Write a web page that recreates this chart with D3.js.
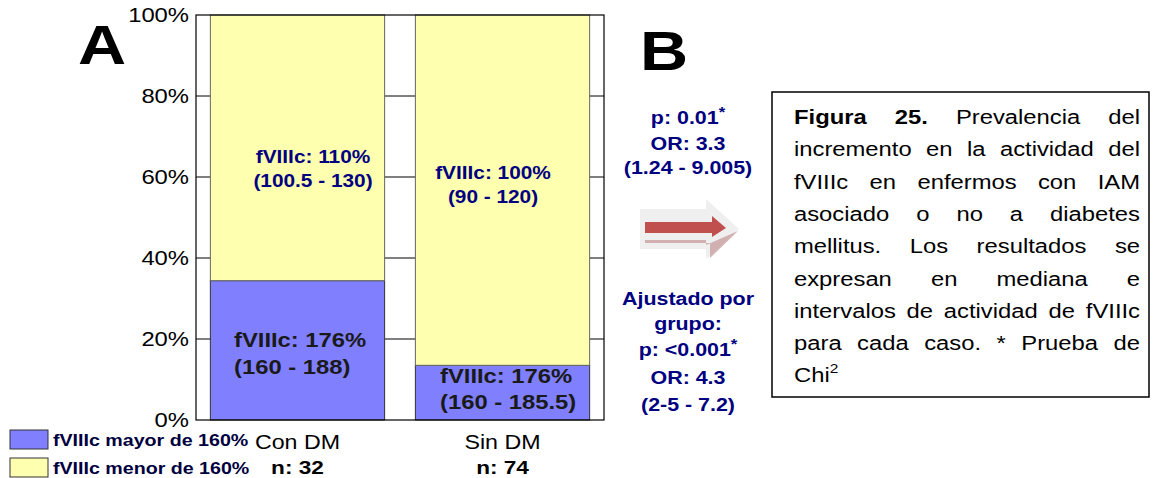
<!DOCTYPE html>
<html>
<head>
<meta charset="utf-8">
<script src="https://d3js.org/d3.v7.min.js"></script>
<style>
  body { margin: 0; background: #fff; }
  text { font-family: Arial, "Liberation Sans", sans-serif; }
</style>
</head>
<body>
<svg id="chart" width="1153" height="478"></svg>
<script>
// data
const groups = ["Con DM", "Sin DM"];
const nLabels = ["n: 32", "n: 74"];
const mayorPct = [34.4, 13.5];   // fVIIIc mayor de 160%
const menorPct = [65.6, 86.5];   // fVIIIc menor de 160%
const yTicks = [0, 20, 40, 60, 80, 100];
const legendLabels = ["fVIIIc mayor de 160%", "fVIIIc menor de 160%"];
const topLabels = [["fVIIIc: 110%", "(100.5 - 130)"], ["fVIIIc: 100%", "(90 - 120)"]];
const bottomLabels = [["fVIIIc: 176%", "(160 - 188)"], ["fVIIIc: 176%", "(160 - 185.5)"]];
const statsTop = ["p: 0.01*", "OR: 3.3", "(1.24 - 9.005)"];
const statsBottom = ["Ajustado por", "grupo:", "p: <0.001*", "OR: 4.3", "(2-5 - 7.2)"];
const caption = [
  ["Figura", "25.", "Prevalencia", "del"],
  ["incremento", "en", "la", "actividad", "del"],
  ["fVIIIc", "en", "enfermos", "con", "IAM"],
  ["asociado", "o", "no", "a", "diabetes"],
  ["mellitus.", "Los", "resultados", "se"],
  ["expresan", "en", "mediana", "e"],
  ["intervalos", "de", "actividad", "de", "fVIIIc"],
  ["para", "cada", "caso.", "*", "Prueba", "de"]
];

const colors = { mayor: "#8080ff", menor: "#ffffb0" };
const SX = 1.19; // the original picture is stretched horizontally

const svg = d3.select("#chart");
const plot = { left: 196, right: 604, top: 15, bottom: 420 };

// stretched text helper
function stext(x, y, str, size, anchor, weight, fill) {
  return svg.append("text")
    .attr("transform", "translate(" + x + "," + y + ") scale(" + SX + ",1)")
    .attr("text-anchor", anchor || "start")
    .attr("font-size", size)
    .attr("font-weight", weight || "normal")
    .attr("fill", fill || "#000")
    .text(str);
}

// text with a raised asterisk at the end
function starText(x, y, str, size, fill) {
  const base = str.replace("*", "");
  const t = stext(x, y, base, size, "middle", "bold", fill);
  if (str.indexOf("*") >= 0) {
    t.append("tspan").attr("dy", -7).attr("font-size", 14).text("*");
  }
  return t;
}

const x = d3.scaleBand().domain(groups).range([plot.left, plot.right]).paddingInner(0.15).paddingOuter(0.07);
const y = d3.scaleLinear().domain([0, 100]).range([plot.bottom, plot.top]);

// gridlines
svg.append("g").selectAll("line").data(yTicks.filter(d => d > 0 && d < 100)).enter()
  .append("line")
  .attr("x1", plot.left).attr("x2", plot.right)
  .attr("y1", d => y(d)).attr("y2", d => y(d))
  .attr("stroke", "#000").attr("stroke-width", 1);

// bars
groups.forEach((g, i) => {
  svg.append("rect")
    .attr("x", x(g)).attr("width", x.bandwidth())
    .attr("y", y(mayorPct[i])).attr("height", y(0) - y(mayorPct[i]))
    .attr("fill", colors.mayor).attr("stroke", "#333").attr("stroke-width", 1);
  svg.append("rect")
    .attr("x", x(g)).attr("width", x.bandwidth())
    .attr("y", y(mayorPct[i] + menorPct[i])).attr("height", y(mayorPct[i]) - y(mayorPct[i] + menorPct[i]))
    .attr("fill", colors.menor).attr("stroke", "#666").attr("stroke-width", 1);
});

// plot frame
svg.append("rect")
  .attr("x", plot.left).attr("y", plot.top)
  .attr("width", plot.right - plot.left).attr("height", plot.bottom - plot.top)
  .attr("fill", "none").attr("stroke", "#000").attr("stroke-width", 1.2);

// y axis labels
yTicks.forEach(d => {
  stext(plot.left - 7, y(d) + 7, d + "%", 20, "end");
});

// x labels
groups.forEach((g, i) => {
  const cx = x(g) + x.bandwidth() / 2;
  stext(cx, 449, g, 19.5, "middle");
  stext(cx, 474, nLabels[i], 19, "middle", "bold");
});

// labels inside bars
const topPos = [[313, 163, 187], [493, 179, 203]];
topLabels.forEach((lines, i) => {
  lines.forEach((t, j) => stext(topPos[i][0], topPos[i][j + 1], t, 17.5, "middle", "bold", "#000080"));
});
const botPos = [[234, 347, 374], [440, 383, 409]];
bottomLabels.forEach((lines, i) => {
  lines.forEach((t, j) => stext(botPos[i][0], botPos[i][j + 1], t, 20, "start", "bold", "#1a1a1a"));
});

// panel letters
stext(78, 64, "A", 56, "start", "bold");
stext(640, 70, "B", 56, "start", "bold");

// stats text
const statsX = 688;
const statsTopY = [124, 150, 174];
statsTop.forEach((t, i) => starText(statsX, statsTopY[i], t, 18, "#000080"));
const statsBotY = [305, 330, 356, 384, 411];
statsBottom.forEach((t, i) => starText(statsX, statsBotY[i], t, 18, "#000080"));

// arrow
svg.append("path")
  .attr("d", "M640,209 L706,209 L706,199 L739,229 L706,259 L706,249 L640,249 Z")
  .attr("fill", "#efefef");
svg.append("path")
  .attr("d", "M645,240 L706,240 L706,245 L738,231 L710,258 L710,243 L645,243 Z")
  .attr("fill", "#c8a0a0").attr("opacity", 0.8);
svg.append("path")
  .attr("d", "M645,222 L712,222 L712,216 L726,228 L712,237 L712,233 L645,233 Z")
  .attr("fill", "#c0504d");

// caption box
svg.append("rect").attr("x", 772).attr("y", 92).attr("width", 377).attr("height", 305)
  .attr("fill", "#fff").attr("stroke", "#000").attr("stroke-width", 1.5);

const capL = 794, capR = 1140, lineH = 32.3, firstY = 124;
caption.forEach((words, li) => {
  const ly = firstY + li * lineH;
  const nodes = words.map((w, wi) => stext(0, ly, w, 20, "start", li === 0 && wi < 2 ? "bold" : "normal"));
  const widths = nodes.map(n => n.node().getComputedTextLength() * SX);
  const gap = (capR - capL - d3.sum(widths)) / (words.length - 1);
  let cx = capL;
  nodes.forEach((n, k) => {
    n.attr("transform", "translate(" + cx + "," + ly + ") scale(" + SX + ",1)");
    cx += widths[k] + gap;
  });
});
const chi = stext(capL, firstY + 8 * lineH, "Chi", 20);
chi.append("tspan").attr("dy", -9).attr("font-size", 13).text("2");

// legend
legendLabels.forEach((t, i) => {
  const ly = 430 + i * 28;
  svg.append("rect").attr("x", 10).attr("y", ly).attr("width", 38).attr("height", 19)
    .attr("fill", i === 0 ? colors.mayor : colors.menor).attr("stroke", "#333").attr("stroke-width", 1);
  stext(53, ly + 16, t, 16.5, "start", "bold", "#000040");
});
</script>
</body>
</html>
